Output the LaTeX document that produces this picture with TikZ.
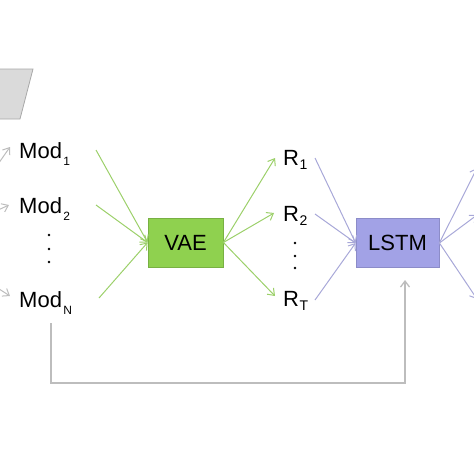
\documentclass[tikz,border=0pt]{standalone}
\usepackage{fontspec}
\setmainfont{Liberation Sans}
\usetikzlibrary{arrows.meta}
\definecolor{vaefill}{HTML}{8FD14F}
\definecolor{vaedraw}{HTML}{78B043}
\definecolor{vaeline}{HTML}{9CD06A}
\definecolor{lstmfill}{HTML}{A2A2E6}
\definecolor{lstmdraw}{HTML}{8C8CC8}
\definecolor{lstmline}{HTML}{A8A8D8}
\definecolor{greyline}{HTML}{BDBDBD}
\definecolor{parafill}{HTML}{DADADA}
\definecolor{paradraw}{HTML}{A8A8A8}
\tikzset{
  lbl/.style={anchor=base west, inner sep=0pt, font=\fontsize{22}{22}\selectfont},
  box/.style={minimum width=75pt, minimum height=49pt, inner sep=0pt, font=\fontsize{22}{22}\selectfont},
  tip/.style={-{Straight Barb[length=6pt,width=9pt]}},
  gline/.style={vaeline, line width=1pt, tip},
  pline/.style={lstmline, line width=1pt, tip},
  kline/.style={greyline, line width=1.3pt, tip},
  dotn/.style={circle, fill=black, inner sep=0pt, minimum size=2.6pt},
}
\newcommand{\sbs}[1]{\kern1.5pt\raisebox{-7pt}{\fontsize{12}{12}\selectfont #1}}
\newcommand{\rsb}[1]{\kern0.5pt\raisebox{-4pt}{\fontsize{14}{14}\selectfont #1}}
\begin{document}
\begin{tikzpicture}[x=1pt,y=-1pt]
\useasboundingbox (0,0) rectangle (474,474);
\clip (0,0) rectangle (474,474);
% top-left parallelogram
\path[fill=parafill, draw=paradraw, line width=0.8pt] (-20,69) -- (33,69) -- (20,119) -- (-20,119) -- cycle;
% labels
\node[lbl] (mod1) at (19,158) {Mod\sbs{1}};
\node[lbl] (mod2) at (19,213) {Mod\sbs{2}};
\node[lbl] (modn) at (19,307) {Mod\sbs{N}};
\node[dotn] (md1) at (49,235) {};
\node[dotn] (md2) at (49,249) {};
\node[dotn] (md3) at (49,262) {};
\node[lbl] (r1) at (283,165) {R\rsb{1}};
\node[lbl] (r2) at (283,221) {R\rsb{2}};
\node[lbl] (rt) at (283,306) {R\rsb{T}};
\node[dotn] (rd1) at (295,243) {};
\node[dotn] (rd2) at (295,256) {};
\node[dotn] (rd3) at (295,268) {};
% boxes
\node[box, fill=vaefill, draw=vaedraw, line width=0.8pt] (vae) at (185.5,242.5) {VAE};
\node[box, fill=lstmfill, draw=lstmdraw, line width=0.8pt, minimum width=83pt] (lstm) at (397.5,243) {LSTM};
% coordinates
\coordinate (m1o) at (96,150);
\coordinate (m2o) at (96,205);
\coordinate (mno) at (99,298);
\coordinate (r1i) at (275,158);
\coordinate (r2i) at (274,213);
\coordinate (rti) at (275,296);
\coordinate (r1o) at (315,158);
\coordinate (r2o) at (315,214);
\coordinate (rto) at (315,300);
\coordinate (o1) at (477,168);
\coordinate (o2) at (477,215);
\coordinate (o3) at (477,299);
\coordinate (in1s) at (-4,167);
\coordinate (in1e) at (10,147);
\coordinate (in2s) at (-4,211);
\coordinate (in2e) at (9,205);
\coordinate (in3s) at (-4,287);
\coordinate (in3e) at (10,296);
\coordinate (fb0) at (51,323);
\coordinate (fb1) at (51,383);
\coordinate (fb2) at (405,383);
\coordinate (fb3) at (405,280);
% green connectors
\draw[gline] (m1o) -- (vae.west);
\draw[gline] (m2o) -- (vae.west);
\draw[gline] (mno) -- (vae.west);
\draw[gline] (vae.east) -- (r1i);
\draw[gline] (vae.east) -- (r2i);
\draw[gline] (vae.east) -- (rti);
% purple connectors
\draw[pline] (r1o) -- (lstm.west);
\draw[pline] (r2o) -- (lstm.west);
\draw[pline] (rto) -- (lstm.west);
\draw[pline] (lstm.east) -- (o1);
\draw[pline] (lstm.east) -- (o2);
\draw[pline] (lstm.east) -- (o3);
% grey inputs
\draw[kline, line width=1pt] (in1s) -- (in1e);
\draw[kline, line width=1pt] (in2s) -- (in2e);
\draw[kline, line width=1pt] (in3s) -- (in3e);
% feedback
\draw[kline] (fb0) -- (fb1) -- (fb2) -- (fb3);
\end{tikzpicture}
\end{document}
